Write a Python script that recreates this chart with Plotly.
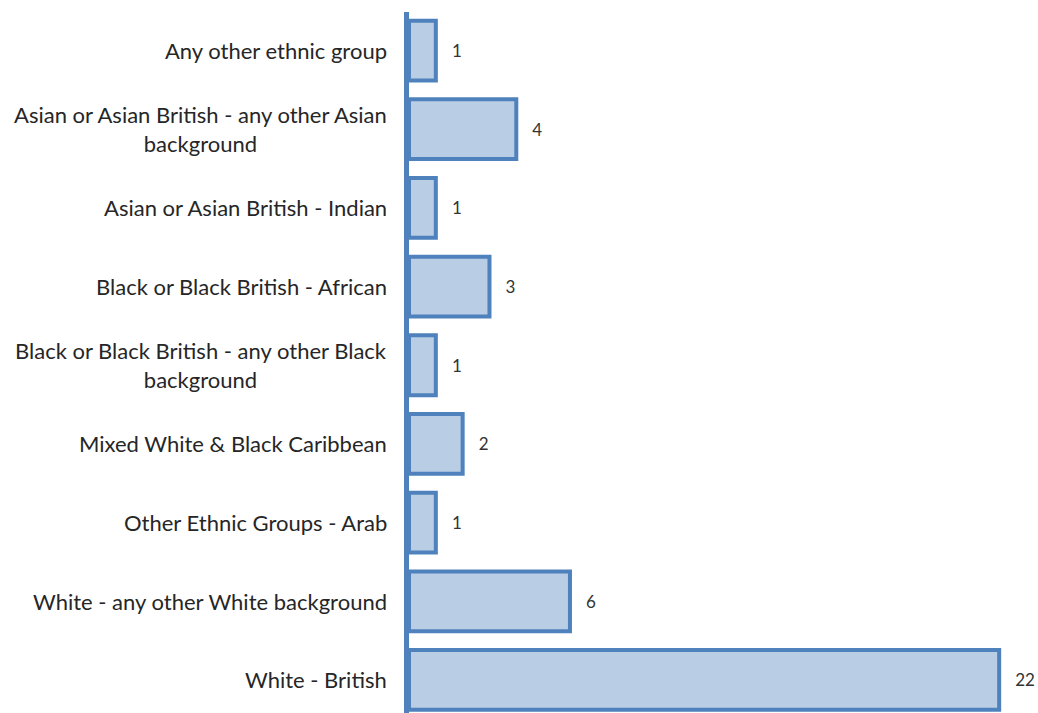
import plotly.graph_objects as go

categories = [
    "Any other ethnic group",
    "Asian or Asian British - any other Asian<br>background",
    "Asian or Asian British - Indian",
    "Black or Black British - African",
    "Black or Black British - any other Black<br>background",
    "Mixed White & Black Caribbean",
    "Other Ethnic Groups - Arab",
    "White - any other White background",
    "White - British",
]
counts = [1, 4, 1, 3, 1, 2, 1, 6, 22]

FONT = "Lato"
EDGE = "#4F81BD"
FILL = "#B9CDE5"

fig = go.Figure()
fig.add_trace(go.Bar(
    y=categories,
    x=counts,
    orientation="h",
    marker=dict(color=FILL, line=dict(color=EDGE, width=4)),
    text=counts,
    textposition="outside",
    texttemplate="   %{x}",
    textfont=dict(family=FONT, size=17, color="#333333"),
    cliponaxis=False,
    showlegend=False,
))

# Category labels as centred multi-line annotations beside the axis
for cat in categories:
    fig.add_annotation(
        x=0, xref="paper", y=cat, yref="y",
        text=cat, showarrow=False,
        xanchor="right", yanchor="middle", align="center",
        xshift=-20,
        font=dict(family=FONT, size=22, color="#262626"),
    )

fig.update_layout(
    width=1038, height=713,
    margin=dict(l=409, r=12, t=12, b=0),
    paper_bgcolor="white", plot_bgcolor="white",
    bargap=0.24,
    font=dict(family=FONT),
    xaxis=dict(range=[0, 23], visible=False, fixedrange=True),
    yaxis=dict(
        type="category",
        categoryorder="array", categoryarray=categories,
        range=[8.42, -0.49],
        showticklabels=False, ticks="",
        showgrid=False, zeroline=False,
        showline=True, linecolor=EDGE, linewidth=5,
    ),
)

fig.write_html("out.html")
